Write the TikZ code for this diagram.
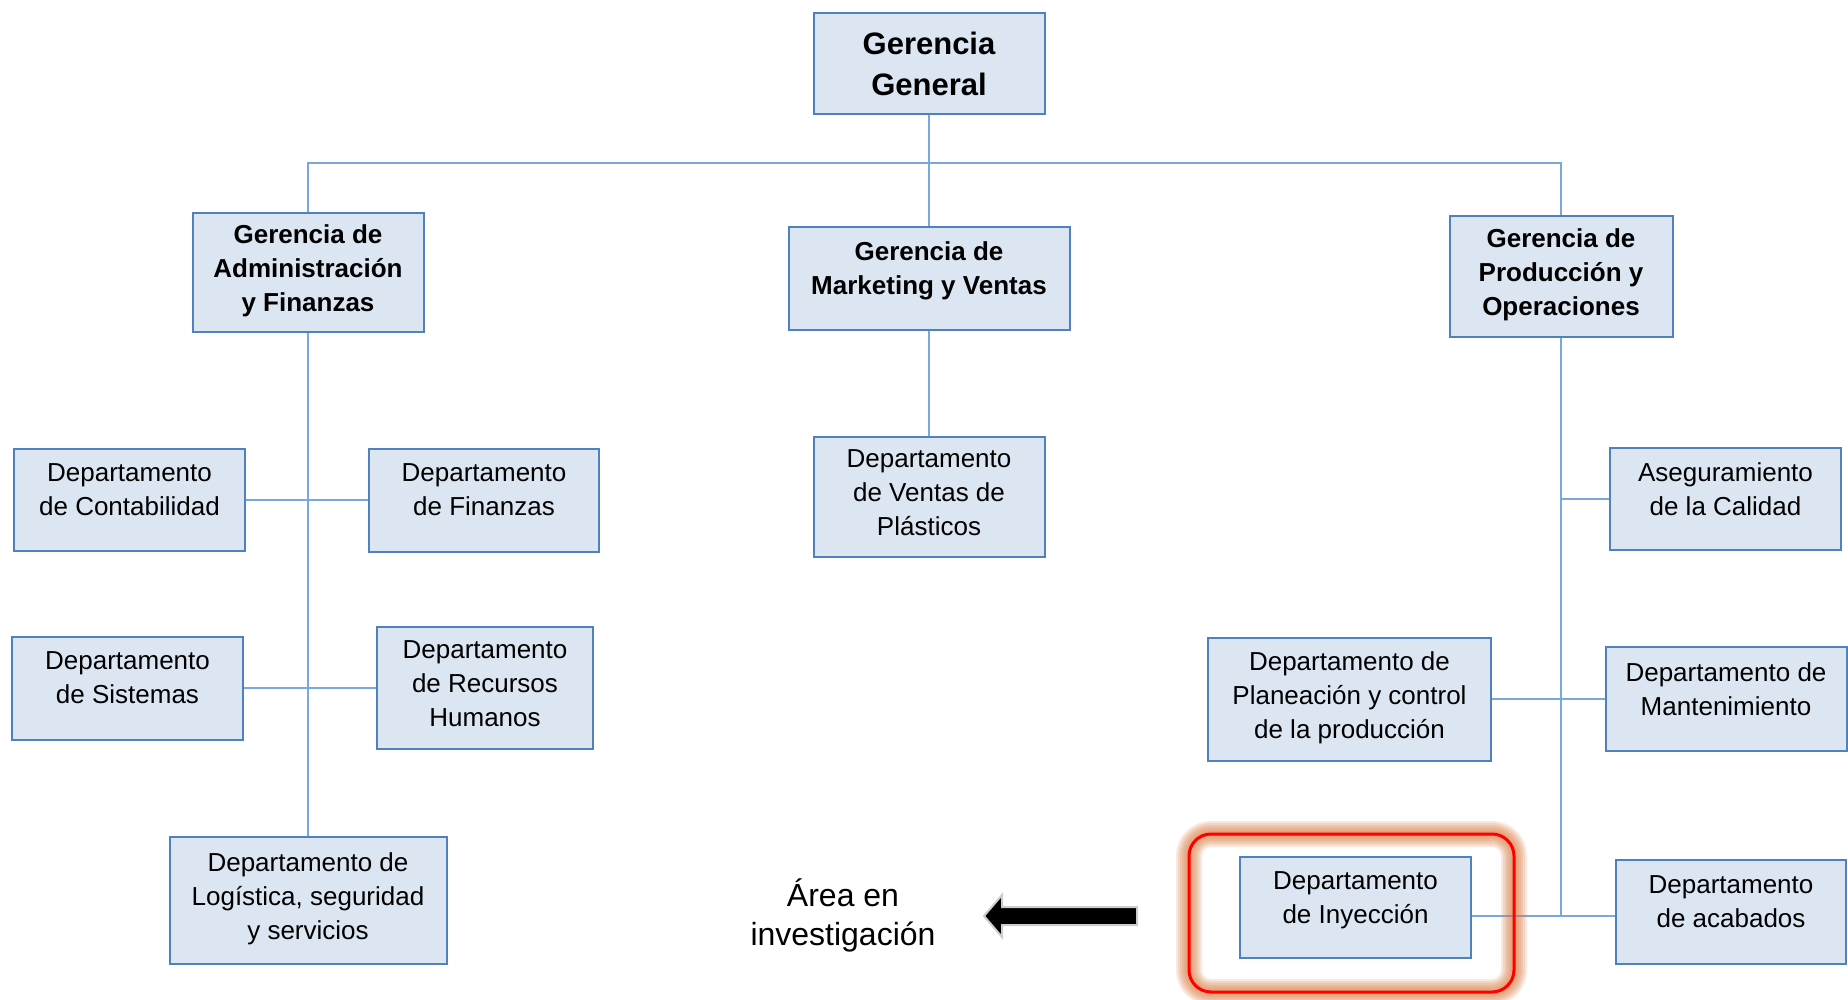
\documentclass[tikz,border=0pt]{standalone}
\usepackage{fontspec}
\setmainfont{Liberation Sans}
\usepackage{xcolor}
\usetikzlibrary{positioning,calc}
\definecolor{boxfill}{RGB}{220,230,242}
\definecolor{boxline}{RGB}{79,129,189}
\definecolor{linkblue}{RGB}{120,168,222}
\definecolor{glow}{RGB}{215,120,60}
\newcommand{\padbot}[1][10pt]{\rule[-#1]{0pt}{#1}}

\begin{document}
\begin{tikzpicture}[x=0.5pt, y=-0.5pt,
  every node/.style={align=center, inner sep=0pt},
  gbox/.style={draw=boxline, fill=boxfill, line width=1pt, minimum width=115.5pt,
    minimum height=51pt, font=\fontsize{13}{17}\selectfont\bfseries},
  dbox/.style={draw=boxline, fill=boxfill, line width=1pt, minimum width=115.5pt,
    minimum height=51pt, font=\fontsize{13}{17}\selectfont},
  link/.style={draw=linkblue, line width=1pt}]
  \useasboundingbox (0,0) rectangle (1848,1000);

  % gerencias
  \node[gbox, minimum height=50.5pt, font=\fontsize{15.5}{20.5}\selectfont\bfseries] (gg) at (929,63.5) {Gerencia\\General};
  \node[gbox, minimum height=59.5pt] (admin) at (308,272.5) {Gerencia de\\Administración\\y Finanzas\padbot[4pt]};
  \node[gbox, minimum width=140.5pt, minimum height=51.5pt] (mkt) at (929,278.5) {Gerencia de\\Marketing y Ventas\padbot};
  \node[gbox, minimum width=111.5pt, minimum height=60.5pt] (prod) at (1561,276.5) {Gerencia de\\Producción y\\Operaciones\padbot[4pt]};

  % departamentos
  \node[dbox] (conta) at (129.5,500) {Departamento\\de Contabilidad\padbot};
  \node[dbox, minimum width=115pt, minimum height=51.5pt] (fin) at (484,500) {Departamento\\de Finanzas\padbot};
  \node[dbox, minimum height=60pt] (ventas) at (929,497) {Departamento\\de Ventas de\\Plásticos\padbot[4pt]};
  \node[dbox, minimum height=51.5pt] (sist) at (127.5,688) {Departamento\\de Sistemas\padbot};
  \node[dbox, minimum width=108pt, minimum height=61pt] (rrhh) at (485,688) {Departamento\\de Recursos\\Humanos\padbot[4pt]};
  \node[dbox, minimum width=138.5pt, minimum height=63.5pt] (logis) at (308,900.5) {Departamento de\\Logística, seguridad\\y servicios\padbot[4pt]};
  \node[dbox] (asegur) at (1725.5,499) {Aseguramiento\\de la Calidad\padbot};
  \node[dbox, minimum width=141.5pt, minimum height=61.5pt] (plan) at (1349.5,699) {Departamento de\\Planeación y control\\de la producción\padbot[4pt]};
  \node[dbox, minimum width=120.5pt, minimum height=52pt] (mant) at (1726,699) {Departamento de\\Mantenimiento\padbot};
  \node[dbox, minimum height=50.5pt] (iny) at (1355.5,907.5) {Departamento\\de Inyección\padbot};
  \node[dbox, minimum width=115pt, minimum height=52pt] (acab) at (1731,912) {Departamento\\de acabados\padbot};

  \coordinate (bus) at (929,163);
  \coordinate (pend) at (1561,916);

  % lineas
  \draw[link] (gg) -- (mkt);
  \draw[link] (admin.north) -- (admin.north |- bus) -- (prod.north |- bus) -- (prod.north);
  \draw[link] (admin) -- (logis);
  \draw[link] (conta) -- (fin);
  \draw[link] (sist) -- (rrhh);
  \draw[link] (mkt) -- (ventas);
  \draw[link] (prod.south) -- (pend);
  \draw[link] (asegur.west) -- (asegur.west -| pend);
  \draw[link] (plan) -- (mant);
  \draw[link] (iny.east |- pend) -- (acab.west |- pend);

  % area resaltada
  \coordinate (hl1) at (1189,834);
  \coordinate (hl2) at (1514,992);
  \foreach \w in {13,11,9,7,5,3}
    \draw[glow, line width=\w pt, opacity=0.17, rounded corners=11pt] (hl1) rectangle (hl2);
  \draw[red, line width=1.5pt, rounded corners=11pt] (hl1) rectangle (hl2);

  \node[font=\fontsize{16}{19.5}\selectfont] (area) at (843,915) {Área en\\investigación};
  \filldraw[black, draw=gray!40, line width=1pt] (984,916) -- (1002,895) -- (1002,907) -- (1137,907)
    -- (1137,925) -- (1002,925) -- (1002,937) -- cycle;
\end{tikzpicture}
\end{document}
